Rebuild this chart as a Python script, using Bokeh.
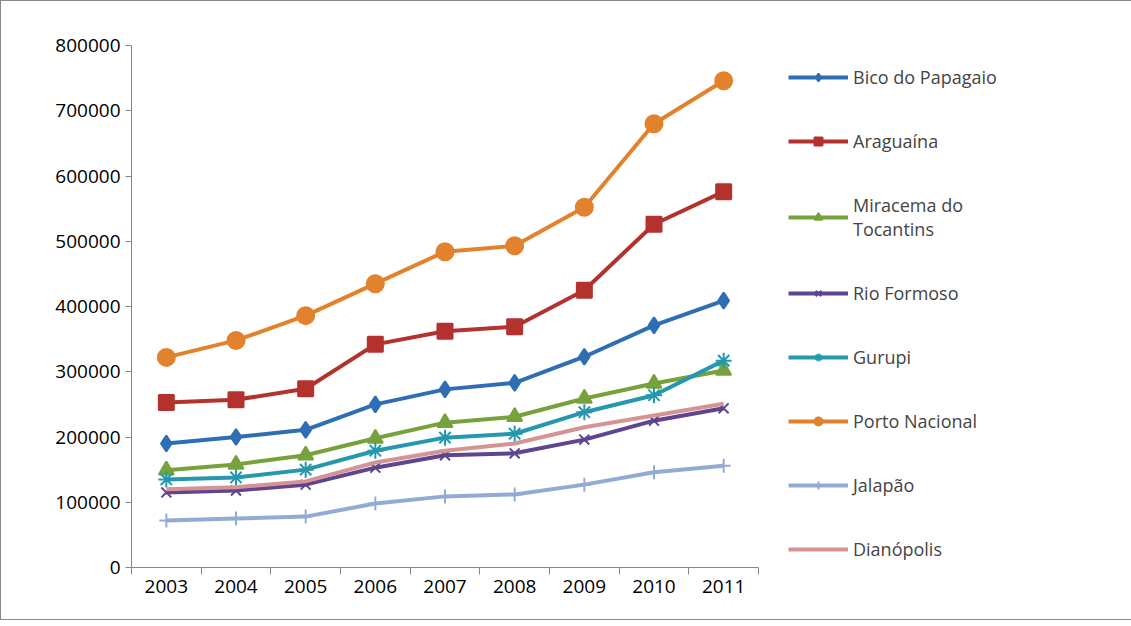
from bokeh.plotting import figure
from bokeh.models import FixedTicker, Legend, LegendItem, Range1d
from bokeh.embed import file_html
from bokeh.resources import INLINE

years = ["2003", "2004", "2005", "2006", "2007", "2008", "2009", "2010", "2011"]
bico = [190000, 200000, 211000, 250000, 273000, 283000, 323000, 371000, 409000]
araguaina = [253000, 257000, 274000, 342000, 362000, 369000, 425000, 526000, 576000]
miracema = [149000, 158000, 172000, 198000, 222000, 231000, 259000, 282000, 302000]
rio_formoso = [115000, 118000, 127000, 153000, 172000, 175000, 196000, 225000, 244000]
gurupi = [135000, 138000, 150000, 179000, 199000, 205000, 238000, 264000, 317000]
porto = [322000, 348000, 386000, 435000, 484000, 493000, 552000, 680000, 746000]
jalapao = [72000, 75000, 78000, 98000, 109000, 112000, 127000, 146000, 156000]
dianopolis = [120000, 123000, 132000, 161000, 179000, 190000, 215000, 233000, 251000]

series = [
    ("Bico do Papagaio", bico, "#2F6EB5", "diamond", 16),
    ("Araguaína", araguaina, "#B4322E", "square", 15),
    ("Miracema do\nTocantins", miracema, "#77A23B", "triangle", 15),
    ("Rio Formoso", rio_formoso, "#5E4590", "x", 14),
    ("Gurupi", gurupi, "#2597AE", "asterisk", 16),
    ("Porto Nacional", porto, "#E3822D", "circle", 17),
    ("Jalapão", jalapao, "#92ABD5", "cross", 14),
    ("Dianópolis", dianopolis, "#D59493", None, 0),
]

xs = [i + 0.5 for i in range(len(years))]

p = figure(width=1123, height=618, output_backend="svg", toolbar_location=None,
           x_range=Range1d(0, 9), y_range=Range1d(0, 800000),
           min_border_left=130, min_border_top=44, min_border_bottom=52,
           min_border_right=20)
p.frame_width = 627
p.frame_height = 522
p.styles = {"border": "1px solid #888888"}
p.outline_line_color = None
p.xgrid.visible = False
p.ygrid.visible = False

items = []
for name, vals, color, marker, size in series:
    r = [p.line(xs, vals, line_color=color, line_width=4)]
    if marker:
        r.append(p.scatter(xs, vals, marker=marker, size=size, fill_color=color,
                           line_color=color, line_width=2))
    items.append(LegendItem(label=name, renderers=r))

p.xaxis.ticker = FixedTicker(ticks=xs, minor_ticks=list(range(10)))
p.xaxis.major_label_overrides = {x: y for x, y in zip(xs, years)}
p.xaxis.major_tick_out = 0
p.xaxis.major_tick_in = 0
p.xaxis.minor_tick_out = 7
p.xaxis.minor_tick_in = 0
p.yaxis.ticker = FixedTicker(ticks=list(range(0, 800001, 100000)))
p.yaxis.major_tick_out = 6
p.yaxis.major_tick_in = 0
p.yaxis.minor_tick_out = 0
p.yaxis.formatter.use_scientific = False
for ax in (p.xaxis, p.yaxis):
    ax.axis_line_color = "#868686"
    ax.major_tick_line_color = "#868686"
    ax.minor_tick_line_color = "#868686"
    ax.major_label_text_font = "Open Sans"
    ax.major_label_text_font_size = "19px"
    ax.major_label_text_color = "#000000"

legend = Legend(items=items, border_line_color=None, background_fill_alpha=0,
                label_text_font="Open Sans", label_text_font_size="18px",
                label_text_line_height=1.15,
                glyph_width=60, glyph_height=20, label_height=20, spacing=40,
                padding=0, margin=0, location=(30, 6))
p.add_layout(legend, "right")

open("out.html", "w").write(file_html(p, INLINE))
